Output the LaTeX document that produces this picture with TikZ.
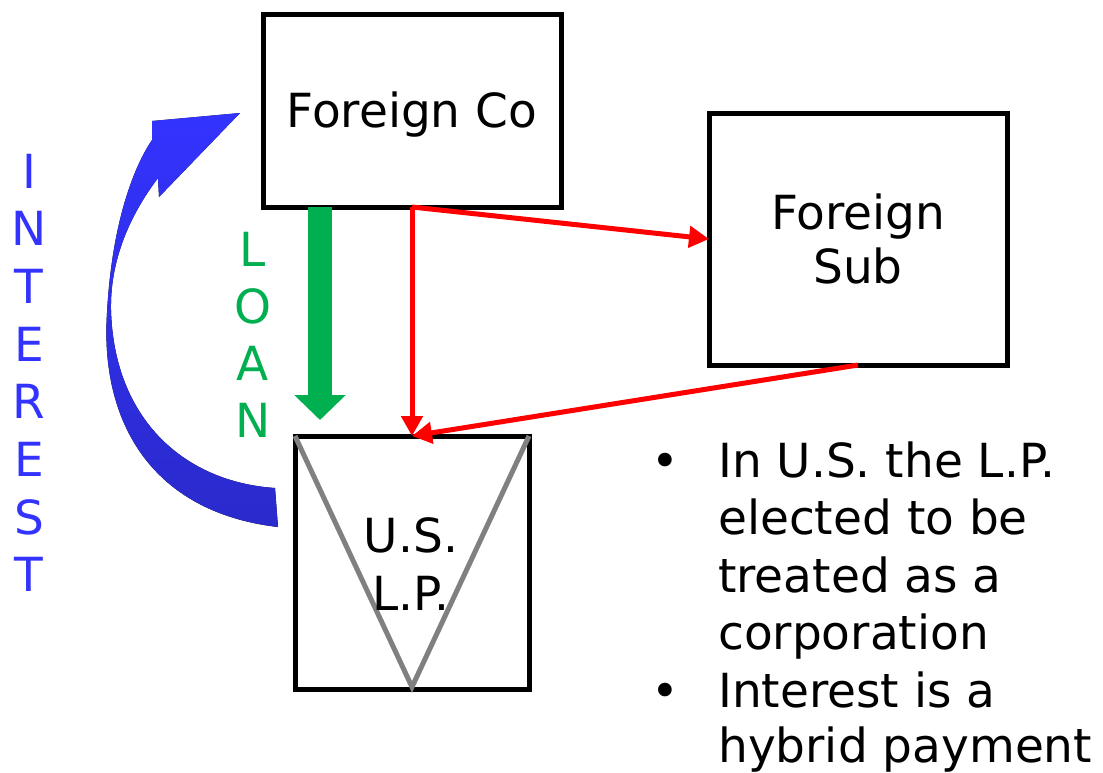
\documentclass[tikz,border=0pt]{standalone}
\usepackage{fontspec}
\setmainfont{DejaVu Sans}
\usetikzlibrary{arrows.meta}
\definecolor{bgreen}{HTML}{00B050}
\definecolor{iblue}{HTML}{3333FF}
\definecolor{dblue}{HTML}{2A2ACC}
\definecolor{lgray}{HTML}{808080}
\tikzset{
  entity/.style={draw=black, line width=5pt, outer sep=0pt, inner sep=0pt, rectangle},
  lbl/.style={anchor=base, inner sep=0pt, font=\fontsize{47}{57}\selectfont},
  redarrow/.style={draw=red, line width=5pt, -{Triangle[length=20pt,width=21pt]}},
  greenarrow/.style={draw=bgreen, line width=24pt, -{Triangle[length=25pt,width=50pt]}},
  vletter/.style={anchor=base, inner sep=0pt, font=\fontsize{47}{57}\selectfont},
  bullettext/.style={anchor=base west, inner sep=0pt, font=\fontsize{47}{57}\selectfont},
}
\begin{document}
\begin{tikzpicture}[x=1pt,y=-1pt]
\useasboundingbox (0,0) rectangle (1103,772);
\fill[white] (0,0) rectangle (1103,772);

% boxes
\node[entity, minimum width=298pt, minimum height=193pt] (fc) at (412,110.5) {};
\node[entity, minimum width=298pt, minimum height=252pt] (fs) at (858,239) {};
\node[entity, minimum width=234pt, minimum height=253pt] (lp) at (412,562.5) {};

% gray triangle
\draw[lgray, line width=5pt] (lp.north west) -- ([yshift=2pt]lp.south) -- (lp.north east);

% labels
\node[lbl] (fctext) at (412,127) {Foreign Co};
\node[lbl] (fstext1) at (858,229) {Foreign};
\node[lbl] (fstext2) at (858,283) {Sub};
\node[lbl] (lptext1) at (411,552) {U.S.};
\node[lbl] (lptext2) at (411,610) {L.P.};

% green loan arrow
\draw[greenarrow] ([xshift=-92pt]fc.south) -- ([xshift=-92pt,yshift=16pt]lp.north);

% red arrows
\draw[redarrow] (fc.south) -- (fs.west);
\draw[redarrow] (fc.south) -- (lp.north);
\draw[redarrow] (fs.south) -- (lp.north);

% blue curved interest arrow
\fill[top color=iblue, bottom color=dblue]
  (278,527) .. controls (150,512) and (100,420) .. (107,313)
  .. controls (112,220) and (135,165) .. (152,140)
  -- (152,121) -- (240,113) -- (159,197) -- (158,178)
  .. controls (130,215) and (110,260) .. (111,310)
  .. controls (114,420) and (185,482) .. (275,488) -- cycle;

% vertical words
\foreach \l [count=\i] in {I,N,T,E,R,E,S,T}
  \node[vletter, text=iblue] (int\i) at (29,{188+57.7*(\i-1)}) {\l};
\foreach \l [count=\i] in {L,O,A,N}
  \node[vletter, text=bgreen] (loan\i) at (253,{266+57.3*(\i-1)}) {\l};

% bullet text
\node[lbl] (b1) at (665,477) {•};
\node[lbl] (b2) at (665,707) {•};
\node[bullettext] (t1) at (718,477) {In U.S. the L.P.};
\node[bullettext] (t2) at (718,534) {elected to be};
\node[bullettext] (t3) at (718,592) {treated as a};
\node[bullettext] (t4) at (718,649) {corporation};
\node[bullettext] (t5) at (718,707) {Interest is a};
\node[bullettext] (t6) at (718,762) {hybrid payment};
\end{tikzpicture}
\end{document}
